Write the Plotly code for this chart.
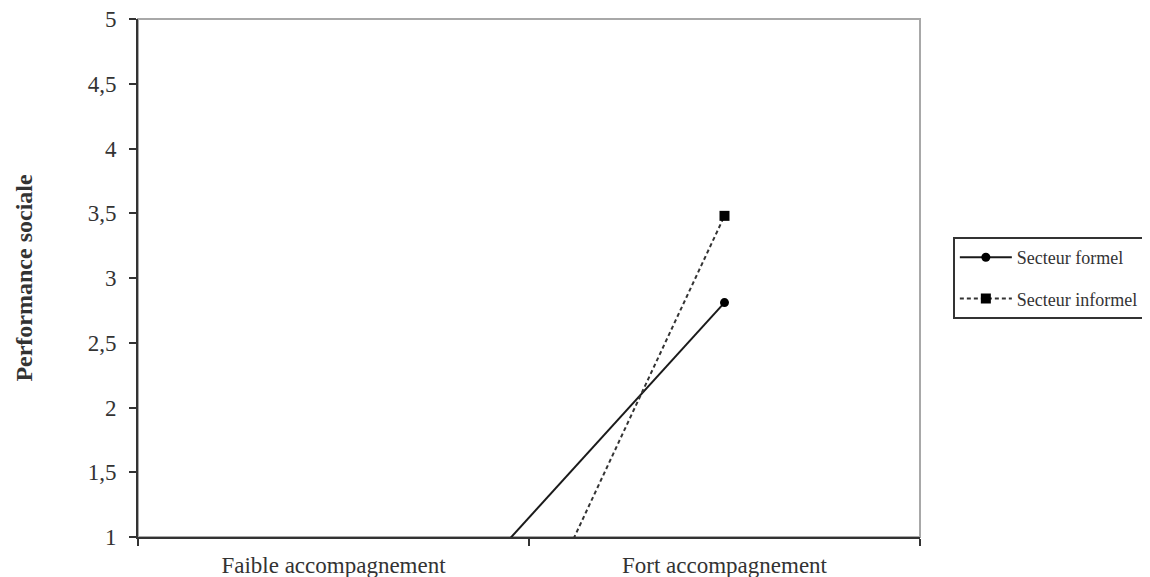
import plotly.graph_objects as go

categories = ["Faible accompagnement", "Fort accompagnement"]
formel = [-0.51, 2.81]
informel = [-2.98, 3.48]
y_ticks = [1, 1.5, 2, 2.5, 3, 3.5, 4, 4.5, 5]
y_ticktext = ["1", "1,5", "2", "2,5", "3", "3,5", "4", "4,5", "5"]

serif = "Liberation Serif, Times New Roman, serif"

fig = go.Figure()
fig.add_trace(go.Scatter(
    x=categories, y=formel, name="Secteur formel", mode="lines+markers",
    line=dict(color="#1a1a1a", width=2),
    marker=dict(symbol="circle", size=9, color="#000000"),
    legendgroup="a", cliponaxis=True,
))
fig.add_trace(go.Scatter(
    x=categories, y=informel, name="Secteur informel", mode="lines+markers",
    line=dict(color="#333333", width=2, dash="4px,3px"),
    marker=dict(symbol="square", size=10, color="#000000"),
    legendgroup="b", cliponaxis=True,
))

fig.add_shape(type="rect", xref="paper", yref="paper", x0=0, x1=1, y0=0, y1=1,
              line=dict(color="#a8a8a8", width=2), layer="below")

fig.update_layout(
    width=1150, height=577,
    margin=dict(l=130, r=238, t=11, b=48, autoexpand=False),
    paper_bgcolor="white", plot_bgcolor="white",
    font=dict(family=serif, color="#333333"),
    showlegend=True,
    legend=dict(
        x=1.042, y=0.5, xanchor="left", yanchor="middle",
        bordercolor="#333333", borderwidth=2,
        font=dict(family=serif, size=18, color="#333333"),
        tracegroupgap=15, bgcolor="white", itemwidth=52,
    ),
    xaxis=dict(
        type="category", range=[-0.5, 1.5], automargin=False,
        tickson="boundaries", ticks="outside", ticklen=7, tickwidth=2,
        tickcolor="#333333",
        showline=True, linecolor="#333333", linewidth=2,
        showgrid=False, zeroline=False,
        ticklabelstandoff=6, ticklabeloverflow="allow",
        tickfont=dict(family=serif, size=23, color="#333333"),
    ),
    yaxis=dict(
        range=[1, 5], tickvals=y_ticks, ticktext=y_ticktext, automargin=False,
        ticks="outside", ticklen=7, tickwidth=2, tickcolor="#333333",
        showline=True, linecolor="#333333", linewidth=2,
        showgrid=False, zeroline=False,
        ticklabelstandoff=8, ticklabeloverflow="allow",
        tickfont=dict(family=serif, size=23, color="#333333"),
        title=dict(text="<b>Performance sociale</b>",
                   font=dict(family=serif, size=24, color="#333333"),
                   standoff=48),
    ),
)

fig.write_html("out.html")
